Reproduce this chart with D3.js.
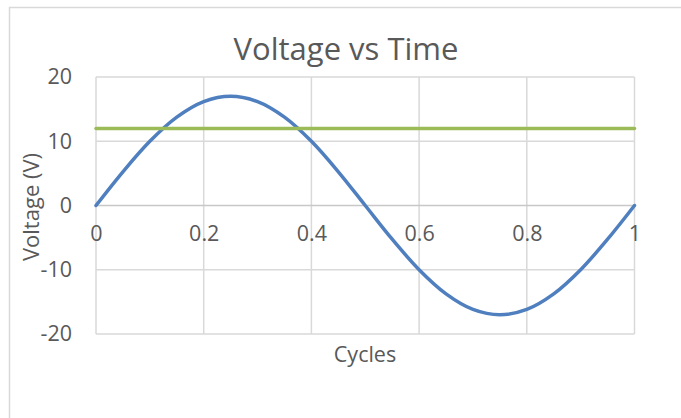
<!DOCTYPE html>
<html>
<head>
<meta charset="utf-8">
<script src="https://cdnjs.cloudflare.com/ajax/libs/d3/7.8.5/d3.min.js"></script>
<style>
  body { margin: 0; background: #fff; }
  text { font-family: "Open Sans", sans-serif; fill: #595959; }
</style>
</head>
<body>
<div id="chart"></div>
<script>
// data
var cycles = [0, 0.05, 0.1, 0.15, 0.2, 0.25, 0.3, 0.35, 0.4, 0.45, 0.5,
              0.55, 0.6, 0.65, 0.7, 0.75, 0.8, 0.85, 0.9, 0.95, 1];
var voltage = [0, 5.25, 9.99, 13.75, 16.17, 17, 16.17, 13.75, 9.99, 5.25, 0,
               -5.25, -9.99, -13.75, -16.17, -17, -16.17, -13.75, -9.99, -5.25, 0];
var rmsX = [0, 1];
var rmsV = [12, 12];
var xTicks = [0, 0.2, 0.4, 0.6, 0.8, 1];
var yTicks = [-20, -10, 0, 10, 20];

var width = 681, height = 418;
var margin = { top: 77, right: 46.5, bottom: 84, left: 96 };
var chartWidth = width - margin.left - margin.right;
var chartHeight = height - margin.top - margin.bottom;

var svg = d3.select("#chart").append("svg")
    .attr("width", width)
    .attr("height", height);

// chart frame
svg.append("path")
    .attr("d", "M9.5,418 V7.5 H681")
    .attr("fill", "none")
    .attr("stroke", "#d9d9d9")
    .attr("stroke-width", 1.5);

var g = svg.append("g")
    .attr("transform", `translate(${margin.left},${margin.top})`);

var x = d3.scaleLinear().domain([0, 1]).range([0, chartWidth]);
var y = d3.scaleLinear().domain([-20, 20]).range([chartHeight, 0]);

// gridlines
g.append("g").selectAll("line.v")
    .data(xTicks).enter().append("line")
    .attr("x1", d => x(d)).attr("x2", d => x(d))
    .attr("y1", 0).attr("y2", chartHeight)
    .attr("stroke", "#d9d9d9").attr("stroke-width", 1.5);

g.append("g").selectAll("line.h")
    .data(yTicks).enter().append("line")
    .attr("x1", 0).attr("x2", chartWidth)
    .attr("y1", d => y(d)).attr("y2", d => y(d))
    .attr("stroke", d => d === 0 ? "#c8c8c8" : "#d9d9d9")
    .attr("stroke-width", 1.5);

// y axis labels (plain hyphen for negatives, like the original)
var yAxis = g.append("g")
    .call(d3.axisLeft(y).tickValues(yTicks).tickFormat(d => String(d)).tickSize(0).tickPadding(24));
yAxis.select(".domain").remove();
yAxis.selectAll("text")
    .attr("font-size", 21.5)
    .attr("font-family", "Open Sans")
    .attr("fill", "#595959");

// x axis labels sit on the zero line
var xAxis = g.append("g")
    .attr("transform", `translate(0,${y(0)})`)
    .call(d3.axisBottom(x).tickValues(xTicks).tickFormat(d => String(d)).tickSize(0).tickPadding(20));
xAxis.select(".domain").remove();
xAxis.selectAll("text")
    .attr("font-size", 21.5)
    .attr("font-family", "Open Sans")
    .attr("fill", "#595959");

var line = d3.line()
    .x(d => x(d[0]))
    .y(d => y(d[1]))
    .curve(d3.curveCatmullRom);

g.append("path")
    .datum(cycles.map((c, i) => [c, voltage[i]]))
    .attr("d", line)
    .attr("fill", "none")
    .attr("stroke", "#4f7fbe")
    .attr("stroke-width", 3.5)
    .attr("stroke-linecap", "round");

g.append("path")
    .datum(rmsX.map((c, i) => [c, rmsV[i]]))
    .attr("d", line)
    .attr("fill", "none")
    .attr("stroke", "#9bbb59")
    .attr("stroke-width", 3.5)
    .attr("stroke-linecap", "round");

// title and axis titles
svg.append("text")
    .attr("x", 346).attr("y", 60)
    .attr("text-anchor", "middle")
    .attr("font-size", 31)
    .text("Voltage vs Time");

svg.append("text")
    .attr("x", 365).attr("y", 362)
    .attr("text-anchor", "middle")
    .attr("font-size", 21.5)
    .text("Cycles");

svg.append("text")
    .attr("transform", "translate(39,207) rotate(-90)")
    .attr("text-anchor", "middle")
    .attr("font-size", 22)
    .text("Voltage (V)");
</script>
</body>
</html>
